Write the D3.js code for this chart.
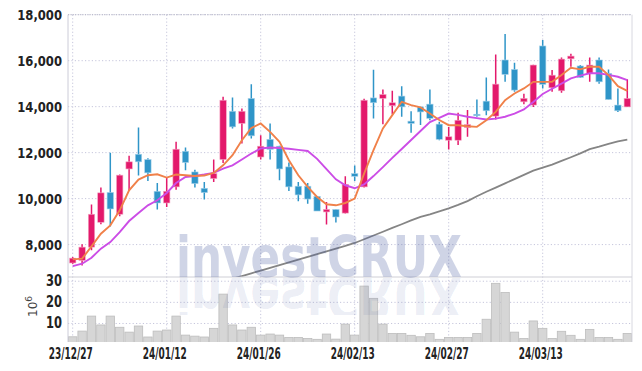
<!DOCTYPE html>
<html>
<head>
<meta charset="utf-8">
<script src="https://cdn.jsdelivr.net/npm/d3@7/dist/d3.min.js"></script>
<style>
body { margin: 0; background: #fff; }
svg { display: block; }
.tick-label { font-family: "Liberation Sans Narrow", "DejaVu Sans Condensed", sans-serif; font-weight: bold; fill: #222; }
.mark { font-family: "DejaVu Sans", sans-serif; font-weight: bold; font-size: 57px; }
</style>
</head>
<body>
<svg id="chart" width="642" height="371"></svg>
<script>
var dates = ["23/12/27","23/12/28","24/01/02","24/01/03","24/01/04","24/01/05","24/01/08","24/01/09","24/01/10","24/01/11",
  "24/01/12","24/01/15","24/01/16","24/01/17","24/01/18","24/01/19","24/01/22","24/01/23","24/01/24","24/01/25",
  "24/01/26","24/01/29","24/01/30","24/01/31","24/02/01","24/02/02","24/02/05","24/02/06","24/02/07","24/02/08",
  "24/02/13","24/02/14","24/02/15","24/02/16","24/02/19","24/02/20","24/02/21","24/02/22","24/02/23","24/02/26",
  "24/02/27","24/02/28","24/02/29","24/03/04","24/03/05","24/03/06","24/03/07","24/03/08","24/03/11","24/03/12",
  "24/03/13","24/03/14","24/03/15","24/03/18","24/03/19","24/03/20","24/03/21","24/03/22","24/03/25","24/03/26"]

var opens = [7200,7310,7890,8970,10270,9320,11290,11930,11700,10320,
  9810,10510,12060,11160,10450,10870,11700,13800,13270,14360,
  11810,12580,12280,11380,10540,10540,10100,9420,9530,9370,
  11090,10510,14380,14360,14040,14460,13370,13990,14110,13240,
  12540,12540,13090,13670,14240,13590,16030,15620,14210,14070,
  16640,14820,14690,16080,15770,15450,16030,15450,14070,13990]
var highs = [7460,8010,9740,10480,11990,11050,11860,13090,11760,10680,
  10920,12470,12220,11260,10720,11700,14430,14400,13920,14980,
  12760,13270,12300,11570,10720,10680,10100,9850,9530,10970,
  11440,14340,15600,14750,14690,14890,13800,14000,14750,13340,
  13120,13730,13850,14310,15270,16270,17160,15910,14560,15820,
  16900,15590,16140,16300,15810,16140,16140,15620,14790,15190]
var lows = [7150,7090,7750,8880,8790,9230,10360,11000,10770,9530,
  9640,10390,11230,10480,9960,10720,11550,13050,12400,12620,
  11700,11700,10800,10330,9880,9780,9460,8870,8960,9350,
  10770,10480,13490,13240,13670,13560,12860,13200,13410,12540,
  12140,12330,12690,13560,13630,13440,15080,14650,14110,13980,
  14790,14650,14600,15740,15250,15080,15000,14310,13770,13990]
var closes = [7410,7890,9320,10250,9550,11020,11600,11600,11120,9810,
  10320,12150,11570,10650,10260,11090,14280,13120,13800,12730,
  12280,12140,11290,10510,10160,9980,9460,9530,9200,10620,
  10970,14280,14170,14530,14170,13990,13270,13770,13490,12580,
  12690,13410,13220,13620,13820,14980,15400,14720,14360,15810,
  14970,15370,16070,16200,15270,15810,15080,14310,13820,14360]

// moving averages (5, 20 and long period)
var ma5 = [7356,7386,7920,8475,8837,9490,10362,10830,11016,11060,
  10916,11047,11016,10986,11003,11116,11450,11887,12540,13070,
  13268,12903,12467,11670,11016,10507,10070,9752,9709,9810,
  10000,11090,12105,13050,13630,14210,14066,13966,13704,13420,
  13194,13194,13150,13120,13412,13774,14283,14575,14793,15080,
  15080,15080,15373,15694,15621,15734,15734,15373,14893,14690]
var ma20 = [7064,7168,7430,7822,8110,8545,9025,9373,9709,9926,
  10245,10680,10942,10986,11047,11120,11308,11450,11700,11960,
  12180,12220,12200,12170,12120,12070,11730,11280,10840,10580,
  10450,10620,10980,11370,11770,12160,12550,12940,13330,13510,
  13700,13640,13560,13500,13440,13480,13560,13700,13880,14200,
  14550,14780,15000,15230,15350,15450,15450,15380,15300,15150]
var maLong = [null,null,null,null,null,null,null,null,null,null,
  null,null,null,null,null,null,null,6515,6633,6750,
  6872,6990,7107,7225,7347,7465,7582,7705,7822,7940,
  8070,8232,8397,8558,8724,8885,9051,9207,9317,9443,
  9574,9726,9891,10100,10297,10480,10663,10850,11033,11216,
  11350,11477,11639,11800,11965,12149,12257,12380,12490,12562]

// volume in millions
var volumes = [3.7,6.4,13.5,9.3,13.5,8.2,5.9,8.8,3.6,6.4,
  6.9,13.5,4.5,4.0,3.6,7.7,23.9,9.3,6.9,8.2,
  4.5,5.0,4.5,3.4,3.4,2.9,2.5,5.0,2.6,9.7,
  4.5,27.7,21.9,9.7,5.3,5.3,4.4,3.7,5.3,2.5,
  3.4,3.4,3.4,5.3,12.0,29.0,24.7,5.9,2.9,11.2,
  7.7,2.9,6.3,4.4,2.5,7.2,3.4,3.4,2.5,5.3]

var priceTicks = [8000, 10000, 12000, 14000, 16000, 18000]
var volumeTicks = [10, 20, 30]
var dateTicks = ["23/12/27", "24/01/12", "24/01/26", "24/02/13", "24/02/27", "24/03/13"]

var upColor = "#e3196b"
var downColor = "#2f95c8"

var left = 68, right = 632
var priceTop = 14.7, priceBottom = 277
var volTop = 277, volBottom = 342

var svg = d3.select("#chart")

var x = d3.scaleBand().domain(dates).range([left, right]).padding(0)
var cx = function (d) { return x(d) + x.bandwidth() / 2 }
var y = d3.scaleLinear().domain([6590, 18000]).range([priceBottom, priceTop])
var yv = d3.scaleLinear().domain([0, 32]).range([344.6, 277])

var defs = svg.append("defs")
defs.append("clipPath").attr("id", "price-clip")
  .append("rect").attr("x", left).attr("y", priceTop).attr("width", right - left).attr("height", priceBottom - priceTop)
defs.append("clipPath").attr("id", "vol-clip")
  .append("rect").attr("x", left).attr("y", volTop).attr("width", right - left).attr("height", volBottom - volTop)
defs.append("clipPath").attr("id", "refl-clip")
  .append("rect").attr("x", left).attr("y", volTop + 1).attr("width", right - left).attr("height", 37)

// grid
var grid = svg.append("g").attr("stroke", "#c6c6dc").attr("stroke-dasharray", "1.2,2.2").attr("stroke-width", 1)
grid.selectAll(".hgrid").data(priceTicks).enter().append("line")
  .attr("x1", left).attr("x2", right)
  .attr("y1", function (d) { return y(d) }).attr("y2", function (d) { return y(d) })
grid.selectAll(".vgrid-v").data(volumeTicks).enter().append("line")
  .attr("x1", left).attr("x2", right)
  .attr("y1", function (d) { return yv(d) }).attr("y2", function (d) { return yv(d) })
grid.selectAll(".vgrid").data(dateTicks).enter().append("line")
  .attr("x1", cx).attr("x2", cx)
  .attr("y1", priceTop).attr("y2", volBottom)

// volume bars
svg.append("g").attr("clip-path", "url(#vol-clip)")
  .selectAll("rect").data(volumes).enter().append("rect")
  .attr("x", function (d, i) { return x(dates[i]) + 0.5 })
  .attr("width", x.bandwidth() - 1)
  .attr("y", function (d) { return yv(d) })
  .attr("height", function (d) { return volBottom - yv(d) + 2 })
  .attr("fill", "#d6d6d6")
  .attr("stroke", "#bdbdbd")
  .attr("stroke-width", 0.8)

// candles
var candles = svg.append("g").attr("clip-path", "url(#price-clip)")
var bodyW = x.bandwidth() * 0.68
candles.selectAll(".wick").data(dates).enter().append("line")
  .attr("x1", cx).attr("x2", cx)
  .attr("y1", function (d, i) { return y(highs[i]) })
  .attr("y2", function (d, i) { return y(lows[i]) })
  .attr("stroke", function (d, i) { return closes[i] >= opens[i] ? upColor : downColor })
  .attr("stroke-width", 1.5)
candles.selectAll(".body").data(dates).enter().append("rect")
  .attr("x", function (d) { return cx(d) - bodyW / 2 })
  .attr("width", bodyW)
  .attr("y", function (d, i) { return y(Math.max(opens[i], closes[i])) })
  .attr("height", function (d, i) { return Math.max(1.5, Math.abs(y(opens[i]) - y(closes[i]))) })
  .attr("fill", function (d, i) { return closes[i] >= opens[i] ? upColor : downColor })
  .attr("stroke", function (d, i) { return closes[i] >= opens[i] ? "#f4a6c4" : "#a9d3ea" })
  .attr("stroke-width", 0.6)

// moving average lines
function maLine(values) {
  return d3.line()
    .defined(function (d) { return d != null })
    .x(function (d, i) { return cx(dates[i]) })
    .y(function (d) { return y(d) })(values)
}
var lines = svg.append("g").attr("clip-path", "url(#price-clip)").attr("fill", "none")
lines.append("path").attr("d", maLine(maLong)).attr("stroke", "#858585").attr("stroke-width", 1.8)
lines.append("path").attr("d", maLine(ma20)).attr("stroke", "#cc4de6").attr("stroke-width", 1.9)
lines.append("path").attr("d", maLine(ma5)).attr("stroke", "#f0814a").attr("stroke-width", 1.9)

// frame
svg.append("line").attr("x1", left).attr("x2", left).attr("y1", priceTop).attr("y2", volBottom).attr("stroke", "#ccccd8")
svg.append("line").attr("x1", right).attr("x2", right).attr("y1", priceTop).attr("y2", volBottom).attr("stroke", "#d8d8e0")
svg.append("line").attr("x1", left).attr("x2", right).attr("y1", priceTop).attr("y2", priceTop)
  .attr("stroke", "#b8b8c8").attr("stroke-dasharray", "1.2,1.2")
svg.append("line").attr("x1", left).attr("x2", right).attr("y1", volTop).attr("y2", volTop).attr("stroke", "#cfcfd6")

// watermark with reflection
var mark = svg.append("g").attr("pointer-events", "none")
mark.append("text")
  .attr("class", "mark")
  .attr("x", 176).attr("y", 277)
  .attr("textLength", 286).attr("lengthAdjust", "spacingAndGlyphs")
  .attr("fill", "#46599f").attr("fill-opacity", 0.26)
  .text("investCRUX")
mark.append("g").attr("clip-path", "url(#refl-clip)")
  .append("text")
  .attr("class", "mark")
  .attr("transform", "translate(0,554) scale(1,-1)")
  .attr("x", 176).attr("y", 277)
  .attr("textLength", 286).attr("lengthAdjust", "spacingAndGlyphs")
  .attr("fill", "#46599f").attr("fill-opacity", 0.11)
  .text("investCRUX")

// axis labels, squeezed to the narrow look of the reference
function squeeze(sel, factor) {
  sel.each(function () {
    var w = this.getComputedTextLength()
    d3.select(this).attr("textLength", w * factor).attr("lengthAdjust", "spacingAndGlyphs")
  })
}
var pl = svg.append("g").selectAll("text").data(priceTicks).enter().append("text")
  .attr("class", "tick-label")
  .attr("x", 62).attr("y", function (d) { return y(d) + 5 })
  .attr("text-anchor", "end").style("font-size", "14px")
  .text(function (d) { return d3.format(",")(d) })
squeeze(pl, 0.92)
var vl = svg.append("g").selectAll("text").data(volumeTicks).enter().append("text")
  .attr("class", "tick-label")
  .attr("x", 62).attr("y", function (d) { return yv(d) + 5 })
  .attr("text-anchor", "end").style("font-size", "15px")
  .text(function (d) { return d })
squeeze(vl, 0.85)
var dl = svg.append("g").selectAll("text").data(dateTicks).enter().append("text")
  .attr("class", "tick-label")
  .attr("x", function (d) { return cx(d) - 2 }).attr("y", 359)
  .attr("text-anchor", "middle").style("font-size", "16px")
  .text(function (d) { return d })
dl.attr("textLength", 44).attr("lengthAdjust", "spacingAndGlyphs")

var unit = svg.append("text")
  .attr("transform", "translate(37,317) rotate(-90)")
  .style("font-family", "'DejaVu Sans', sans-serif").style("font-size", "12px").attr("fill", "#444")
unit.append("tspan").text("10")
unit.append("tspan").attr("dy", -5).style("font-size", "9px").text("6")
</script>
</body>
</html>
